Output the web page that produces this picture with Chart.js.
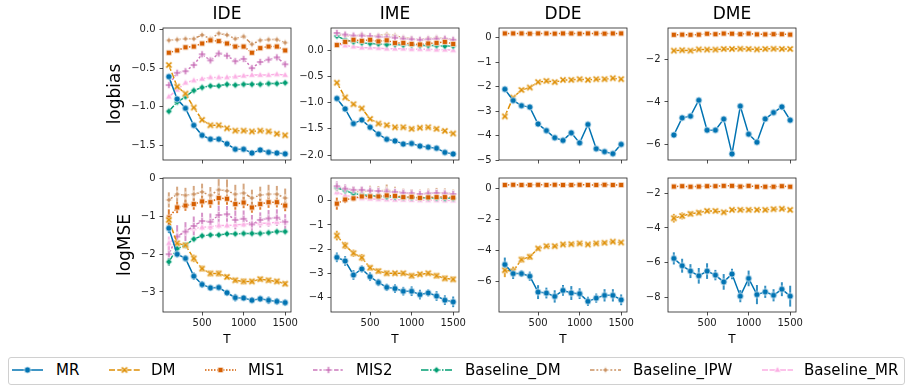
<!DOCTYPE html>
<html>
<head>
<meta charset="utf-8">
<script src="https://cdn.jsdelivr.net/npm/chart.js@4.4.1/dist/chart.umd.min.js"></script>
<style>
  body { margin: 0; width: 912px; height: 392px; background: #fff; position: relative; overflow: hidden; font-family: "DejaVu Sans", sans-serif; }
  canvas.panel { position: absolute; }
  #legend { position: absolute; left: 7.5px; top: 356.5px; width: 897px; height: 28px; border: 1px solid #d0d0d0; border-radius: 3px; box-sizing: border-box; }
  .handle { position: absolute; }
  .ltext { position: absolute; height: 20px; line-height: 20px; font-size: 15px; color: #000; white-space: nowrap; }
</style>
</head>
<body>
<div id="legend"></div>
<script>
// x values and ticks
const T = [100, 200, 300, 400, 500, 600, 700, 800, 900, 1000, 1100, 1200, 1300, 1400, 1500];
const xTicks = [500, 1000, 1500];
const methods = ["MR", "DM", "MIS1", "MIS2", "Baseline_DM", "Baseline_IPW", "Baseline_MR"];

// row 1: logbias
const ideBias = {
  MR: [-0.61, -0.90, -1.02, -1.24, -1.37, -1.42, -1.42, -1.48, -1.55, -1.55, -1.60, -1.56, -1.59, -1.60, -1.61],
  DM: [-0.46, -0.74, -0.83, -1.01, -1.17, -1.24, -1.24, -1.28, -1.31, -1.31, -1.32, -1.31, -1.32, -1.35, -1.37],
  MIS1: [-0.30, -0.27, -0.23, -0.22, -0.18, -0.14, -0.15, -0.18, -0.22, -0.22, -0.30, -0.24, -0.22, -0.22, -0.27],
  MIS2: [-0.72, -0.56, -0.54, -0.46, -0.32, -0.40, -0.31, -0.34, -0.41, -0.38, -0.50, -0.42, -0.39, -0.36, -0.45],
  Baseline_DM: [-1.06, -0.94, -0.87, -0.79, -0.75, -0.73, -0.73, -0.71, -0.72, -0.71, -0.71, -0.71, -0.70, -0.70, -0.69],
  Baseline_IPW: [-0.14, -0.13, -0.12, -0.12, -0.07, -0.12, -0.05, -0.07, -0.12, -0.09, -0.19, -0.14, -0.13, -0.13, -0.17],
  Baseline_MR: [-0.87, -0.78, -0.69, -0.66, -0.64, -0.62, -0.62, -0.62, -0.61, -0.60, -0.59, -0.59, -0.59, -0.58, -0.59]
};
const imeBias = {
  MR: [-0.92, -1.12, -1.40, -1.33, -1.47, -1.60, -1.70, -1.73, -1.79, -1.78, -1.83, -1.85, -1.87, -1.95, -1.98],
  DM: [-0.62, -0.90, -1.03, -1.11, -1.31, -1.40, -1.43, -1.47, -1.47, -1.50, -1.48, -1.47, -1.50, -1.54, -1.59],
  MIS1: [0.10, 0.16, 0.20, 0.18, 0.20, 0.17, 0.19, 0.14, 0.14, 0.12, 0.11, 0.13, 0.14, 0.16, 0.12],
  MIS2: [0.33, 0.30, 0.28, 0.28, 0.27, 0.26, 0.25, 0.24, 0.22, 0.21, 0.20, 0.21, 0.22, 0.22, 0.20],
  Baseline_DM: [0.27, 0.20, 0.16, 0.14, 0.13, 0.12, 0.11, 0.11, 0.10, 0.10, 0.09, 0.09, 0.09, 0.08, 0.08],
  Baseline_IPW: [0.30, 0.28, 0.26, 0.30, 0.26, 0.28, 0.30, 0.28, 0.24, 0.22, 0.20, 0.23, 0.24, 0.22, 0.20],
  Baseline_MR: [0.12, 0.09, 0.07, 0.05, 0.05, 0.04, 0.03, 0.03, 0.03, 0.02, 0.02, 0.02, 0.01, 0.01, 0.00]
};
const ddeBias = {
  MR: [-2.11, -2.57, -2.78, -2.84, -3.53, -3.80, -4.09, -4.20, -3.89, -4.30, -3.55, -4.54, -4.66, -4.74, -4.36],
  DM: [-3.22, -2.45, -2.14, -2.04, -1.82, -1.77, -1.82, -1.73, -1.73, -1.70, -1.73, -1.70, -1.70, -1.66, -1.70],
  MIS1: [0.17, 0.17, 0.17, 0.16, 0.17, 0.17, 0.16, 0.17, 0.17, 0.16, 0.17, 0.17, 0.16, 0.17, 0.17]
};
const dmeBias = {
  MR: [-5.56, -4.75, -4.67, -3.92, -5.33, -5.33, -4.81, -6.45, -4.20, -5.52, -5.90, -4.80, -4.50, -4.23, -4.86],
  DM: [-1.58, -1.56, -1.58, -1.52, -1.53, -1.53, -1.50, -1.50, -1.49, -1.50, -1.52, -1.50, -1.49, -1.50, -1.50],
  MIS1: [-0.83, -0.82, -0.83, -0.82, -0.78, -0.80, -0.77, -0.78, -0.80, -0.77, -0.81, -0.81, -0.80, -0.80, -0.82]
};

// row 2: logMSE
const ideMse = {
  MR: [-1.31, -2.00, -2.11, -2.58, -2.80, -2.89, -2.88, -3.02, -3.15, -3.16, -3.22, -3.18, -3.22, -3.25, -3.28],
  DM: [-1.09, -1.71, -1.76, -2.11, -2.38, -2.51, -2.51, -2.60, -2.69, -2.72, -2.72, -2.66, -2.69, -2.72, -2.78],
  MIS1: [-1.03, -0.76, -0.71, -0.67, -0.60, -0.62, -0.51, -0.53, -0.67, -0.63, -0.76, -0.67, -0.62, -0.62, -0.71],
  MIS2: [-2.00, -1.53, -1.40, -1.25, -1.12, -1.14, -0.96, -0.94, -1.09, -1.06, -1.21, -1.09, -1.05, -1.03, -1.14],
  Baseline_DM: [-2.20, -1.85, -1.76, -1.60, -1.51, -1.49, -1.49, -1.46, -1.46, -1.45, -1.45, -1.45, -1.43, -1.40, -1.40],
  Baseline_IPW: [-0.56, -0.41, -0.44, -0.41, -0.35, -0.44, -0.29, -0.32, -0.41, -0.38, -0.51, -0.43, -0.41, -0.41, -0.51],
  Baseline_MR: [-1.71, -1.51, -1.40, -1.31, -1.29, -1.27, -1.24, -1.24, -1.22, -1.21, -1.18, -1.18, -1.18, -1.15, -1.15]
};
const ideMseErr = {
  MR: [0.13, 0.08, 0.08, 0.10, 0.08, 0.08, 0.07, 0.07, 0.10, 0.08, 0.07, 0.08, 0.10, 0.08, 0.08],
  DM: [0.10, 0.08, 0.08, 0.10, 0.08, 0.08, 0.08, 0.07, 0.07, 0.08, 0.07, 0.07, 0.07, 0.07, 0.07],
  MIS1: [0.22, 0.15, 0.14, 0.15, 0.16, 0.15, 0.18, 0.16, 0.15, 0.15, 0.14, 0.15, 0.15, 0.14, 0.15],
  MIS2: [0.30, 0.30, 0.25, 0.25, 0.22, 0.22, 0.25, 0.22, 0.25, 0.22, 0.25, 0.20, 0.22, 0.22, 0.20],
  Baseline_DM: [0.10, 0.06, 0.06, 0.05, 0.04, 0.04, 0.04, 0.04, 0.04, 0.04, 0.04, 0.04, 0.04, 0.04, 0.04],
  Baseline_IPW: [0.20, 0.20, 0.20, 0.22, 0.22, 0.22, 0.28, 0.30, 0.25, 0.25, 0.22, 0.22, 0.25, 0.22, 0.25],
  Baseline_MR: [0.18, 0.12, 0.10, 0.10, 0.08, 0.08, 0.08, 0.07, 0.07, 0.07, 0.07, 0.06, 0.06, 0.06, 0.06]
};
const imeMse = {
  MR: [-2.34, -2.49, -3.07, -2.82, -3.14, -3.38, -3.58, -3.63, -3.74, -3.74, -3.88, -3.81, -3.94, -4.11, -4.18],
  DM: [-1.44, -1.85, -2.17, -2.35, -2.77, -2.91, -3.00, -3.00, -3.00, -3.10, -3.04, -3.00, -3.10, -3.21, -3.25],
  MIS1: [-0.12, 0.05, 0.10, 0.18, 0.18, 0.18, 0.22, 0.20, 0.15, 0.16, 0.12, 0.14, 0.15, 0.15, 0.13],
  MIS2: [0.60, 0.50, 0.45, 0.45, 0.42, 0.40, 0.38, 0.36, 0.33, 0.31, 0.28, 0.30, 0.32, 0.30, 0.28],
  Baseline_DM: [0.55, 0.42, 0.30, 0.25, 0.22, 0.18, 0.16, 0.15, 0.14, 0.13, 0.12, 0.12, 0.11, 0.10, 0.10],
  Baseline_IPW: [0.50, 0.45, 0.38, 0.38, 0.42, 0.40, 0.45, 0.38, 0.32, 0.30, 0.28, 0.32, 0.33, 0.33, 0.28],
  Baseline_MR: [0.35, 0.22, 0.15, 0.10, 0.08, 0.06, 0.05, 0.04, 0.04, 0.03, 0.02, 0.02, 0.02, 0.01, 0.01]
};
const imeMseErr = {
  MR: [0.20, 0.20, 0.20, 0.15, 0.18, 0.15, 0.15, 0.18, 0.18, 0.20, 0.20, 0.15, 0.20, 0.20, 0.22],
  DM: [0.20, 0.15, 0.15, 0.15, 0.12, 0.12, 0.12, 0.10, 0.10, 0.12, 0.10, 0.10, 0.12, 0.12, 0.12],
  MIS1: [0.25, 0.15, 0.12, 0.12, 0.12, 0.12, 0.12, 0.12, 0.12, 0.12, 0.12, 0.12, 0.12, 0.12, 0.12],
  MIS2: [0.20, 0.18, 0.15, 0.15, 0.15, 0.15, 0.18, 0.15, 0.15, 0.15, 0.15, 0.15, 0.15, 0.15, 0.15],
  Baseline_DM: [0.08, 0.06, 0.05, 0.04, 0.04, 0.04, 0.04, 0.04, 0.04, 0.04, 0.04, 0.04, 0.04, 0.04, 0.04],
  Baseline_IPW: [0.18, 0.18, 0.20, 0.18, 0.20, 0.20, 0.22, 0.20, 0.18, 0.18, 0.18, 0.18, 0.20, 0.18, 0.18],
  Baseline_MR: [0.12, 0.08, 0.07, 0.06, 0.06, 0.06, 0.06, 0.06, 0.06, 0.06, 0.06, 0.06, 0.06, 0.06, 0.06]
};
const ddeMse = {
  MR: [-4.91, -5.50, -5.50, -5.67, -6.70, -6.76, -6.98, -6.59, -6.76, -6.80, -7.30, -7.09, -6.91, -6.91, -7.20],
  DM: [-5.28, -5.35, -4.59, -4.41, -3.87, -3.72, -3.72, -3.61, -3.59, -3.54, -3.61, -3.54, -3.50, -3.43, -3.48],
  MIS1: [0.25, 0.26, 0.25, 0.25, 0.26, 0.25, 0.26, 0.25, 0.25, 0.26, 0.25, 0.25, 0.26, 0.25, 0.25]
};
const ddeMseErr = {
  MR: [0.45, 0.35, 0.20, 0.30, 0.45, 0.35, 0.40, 0.35, 0.45, 0.35, 0.30, 0.30, 0.40, 0.40, 0.35],
  DM: [0.45, 0.30, 0.20, 0.20, 0.15, 0.12, 0.10, 0.12, 0.12, 0.10, 0.10, 0.10, 0.10, 0.10, 0.10],
  MIS1: [0.05, 0.05, 0.05, 0.05, 0.05, 0.05, 0.05, 0.05, 0.05, 0.05, 0.05, 0.05, 0.05, 0.05, 0.05]
};
const dmeMse = {
  MR: [-5.75, -6.17, -6.48, -6.75, -6.48, -6.71, -7.10, -6.65, -7.92, -6.90, -7.83, -7.67, -7.87, -7.52, -7.92],
  DM: [-3.44, -3.31, -3.19, -3.12, -3.02, -3.02, -3.10, -2.96, -2.96, -2.96, -2.96, -2.96, -2.92, -2.90, -2.96],
  MIS1: [-1.62, -1.60, -1.63, -1.62, -1.60, -1.60, -1.58, -1.58, -1.62, -1.58, -1.63, -1.63, -1.63, -1.60, -1.63]
};
const dmeMseErr = {
  MR: [0.35, 0.40, 0.40, 0.45, 0.45, 0.30, 0.45, 0.30, 0.35, 0.45, 0.55, 0.35, 0.35, 0.40, 0.60],
  DM: [0.25, 0.20, 0.15, 0.15, 0.12, 0.10, 0.10, 0.10, 0.10, 0.10, 0.10, 0.10, 0.10, 0.10, 0.10],
  MIS1: [0.05, 0.05, 0.05, 0.05, 0.05, 0.05, 0.05, 0.05, 0.05, 0.05, 0.05, 0.05, 0.05, 0.05, 0.05]
};

// y tick values per panel
const ideBiasTicks = [0, -0.5, -1, -1.5];
const imeBiasTicks = [0, -0.5, -1, -1.5, -2];
const ddeBiasTicks = [0, -1, -2, -3, -4, -5];
const dmeBiasTicks = [-2, -4, -6];
const ideMseTicks = [0, -1, -2, -3];
const imeMseTicks = [0, -1, -2, -3, -4];
const ddeMseTicks = [0, -2, -4, -6];
const dmeMseTicks = [-2, -4, -6, -8];

// styles
const colors = {
  MR: "#0173b2", DM: "#de8f05", MIS1: "#d55e00", MIS2: "#cc78bc",
  Baseline_DM: "#029e73", Baseline_IPW: "#ca9161", Baseline_MR: "#fbafe4"
};
const dashes = {
  MR: [], DM: [6, 2.25], MIS1: [1.5, 1.5], MIS2: [4.5, 1.9, 2.25, 1.9],
  Baseline_DM: [7.5, 1.5, 1.5, 1.5], Baseline_IPW: [4.5, 1.9, 1.9, 1.9, 1.9, 1.9],
  Baseline_MR: [6, 1.5, 6, 1.5, 1.5, 1.5]
};
const shapes = {
  MR: "circle", DM: "x", MIS1: "square", MIS2: "plus",
  Baseline_DM: "diamond", Baseline_IPW: "star", Baseline_MR: "triangle"
};

function makeMarker(shape, color) {
  const c = document.createElement("canvas");
  c.width = 12; c.height = 12;
  const g = c.getContext("2d");
  g.translate(6, 6);
  g.beginPath();
  function poly(pts) {
    g.moveTo(pts[0][0], pts[0][1]);
    for (let i = 1; i < pts.length; i++) g.lineTo(pts[i][0], pts[i][1]);
    g.closePath();
  }
  function plusPts(a, e, rot) {
    const p = [[-a, -e], [a, -e], [a, -a], [e, -a], [e, a], [a, a], [a, e], [-a, e], [-a, a], [-e, a], [-e, -a], [-a, -a]];
    const cs = Math.cos(rot), sn = Math.sin(rot);
    return p.map(([x, y]) => [x * cs - y * sn, x * sn + y * cs]);
  }
  if (shape === "circle") g.arc(0, 0, 3.2, 0, Math.PI * 2);
  else if (shape === "square") g.rect(-2.7, -2.7, 5.4, 5.4);
  else if (shape === "x") poly(plusPts(1.1, 3.9, Math.PI / 4));
  else if (shape === "plus") poly(plusPts(1.1, 3.6, 0));
  else if (shape === "diamond") poly([[0, -3.4], [3.4, 0], [0, 3.4], [-3.4, 0]]);
  else if (shape === "star") {
    const pts = [];
    for (let i = 0; i < 8; i++) {
      const r = i % 2 ? 1.7 : 3.8;
      const a = -Math.PI / 2 + i * Math.PI / 4;
      pts.push([r * Math.cos(a), r * Math.sin(a)]);
    }
    poly(pts);
  } else if (shape === "triangle") poly([[0, -3.8], [3.4, 2.2], [-3.4, 2.2]]);
  g.fillStyle = color;
  g.fill();
  g.lineWidth = 0.75;
  g.strokeStyle = "#fff";
  g.stroke();
  return c;
}

const markers = {};
methods.forEach(m => markers[m] = makeMarker(shapes[m], colors[m]));

// frame around the plot area
const framePlugin = {
  id: "frame",
  afterDraw(chart) {
    const a = chart.chartArea, ctx = chart.ctx;
    ctx.save();
    ctx.strokeStyle = "#222";
    ctx.lineWidth = 0.8;
    ctx.strokeRect(a.left, a.top, a.right - a.left, a.bottom - a.top);
    ctx.restore();
  }
};

// vertical error bars from each dataset's err array
const errPlugin = {
  id: "errbars",
  beforeDatasetsDraw(chart) {
    const ctx = chart.ctx, xs = chart.scales.x, ys = chart.scales.y;
    ctx.save();
    chart.data.datasets.forEach(ds => {
      if (!ds.err) return;
      ctx.strokeStyle = ds.borderColor;
      ctx.globalAlpha = 0.8;
      ctx.lineWidth = 2;
      ds.data.forEach((p, i) => {
        const x = xs.getPixelForValue(p.x);
        ctx.beginPath();
        ctx.moveTo(x, ys.getPixelForValue(p.y - ds.err[i]));
        ctx.lineTo(x, ys.getPixelForValue(p.y + ds.err[i]));
        ctx.stroke();
      });
    });
    ctx.restore();
  }
};

const plotLefts = [163, 331, 499, 668];
const plotW = 128;
const panels = [
  { row: 0, col: 0, title: "IDE", ylabel: "logbias", data: ideBias, err: null, min: -1.69, max: 0.02, ticks: ideBiasTicks, dec: 1 },
  { row: 0, col: 1, title: "IME", data: imeBias, err: null, min: -2.095, max: 0.425, ticks: imeBiasTicks, dec: 1 },
  { row: 0, col: 2, title: "DDE", data: ddeBias, err: null, min: -5.0, max: 0.39, ticks: ddeBiasTicks, dec: 0 },
  { row: 0, col: 3, title: "DME", data: dmeBias, err: null, min: -6.74, max: -0.51, ticks: dmeBiasTicks, dec: 0 },
  { row: 1, col: 0, ylabel: "logMSE", data: ideMse, err: ideMseErr, min: -3.53, max: 0.02, ticks: ideMseTicks, dec: 0 },
  { row: 1, col: 1, data: imeMse, err: imeMseErr, min: -4.6, max: 0.94, ticks: imeMseTicks, dec: 0 },
  { row: 1, col: 2, data: ddeMse, err: ddeMseErr, min: -7.99, max: 0.70, ticks: ddeMseTicks, dec: 0 },
  { row: 1, col: 3, data: dmeMse, err: dmeMseErr, min: -8.83, max: -1.13, ticks: dmeMseTicks, dec: 0 }
];

const tickFont = { family: "DejaVu Sans", size: 10 };

panels.forEach(p => {
  const yW = p.col === 0 ? 70 : 40;
  const padR = 20;
  const xH = p.row === 0 ? 10 : 36;
  const top = p.row === 0 ? 0 : 168;
  const height = p.row === 0 ? 170 : 180;
  const left = plotLefts[p.col] - yW;
  const width = yW + plotW + padR;

  const cv = document.createElement("canvas");
  cv.className = "panel";
  cv.width = width; cv.height = height;
  cv.style.left = left + "px"; cv.style.top = top + "px";
  document.body.appendChild(cv);

  const datasets = methods.filter(m => p.data[m]).map(m => ({
    label: m,
    data: T.map((t, i) => ({ x: t, y: p.data[m][i] })),
    err: p.err ? p.err[m] : null,
    borderColor: colors[m],
    backgroundColor: colors[m],
    borderWidth: 1.5,
    borderDash: dashes[m],
    pointStyle: markers[m],
    pointRadius: 4,
    tension: 0
  }));

  new Chart(cv.getContext("2d"), {
    type: "line",
    data: { datasets },
    plugins: [framePlugin, errPlugin],
    options: {
      animation: false,
      responsive: false,
      events: [],
      layout: { padding: { top: p.row === 0 ? 0 : 10, right: padR, left: 0, bottom: 0 } },
      plugins: {
        legend: { display: false },
        tooltip: { enabled: false },
        title: {
          display: p.row === 0,
          text: p.title || "",
          fullSize: false,
          color: "#000",
          font: { family: "DejaVu Sans", size: 17, weight: "normal", lineHeight: 1 },
          padding: { top: 6, bottom: 5 }
        }
      },
      scales: {
        x: {
          type: "linear",
          min: 30, max: 1570,
          afterBuildTicks: s => { s.ticks = xTicks.map(v => ({ value: v })); },
          afterFit: s => { s.height = xH; s.paddingLeft = 0; s.paddingRight = 0; },
          ticks: { display: p.row === 1, autoSkip: false, maxRotation: 0, padding: 2, color: "#222", font: tickFont,
            callback: v => String(v) },
          grid: { drawOnChartArea: false, drawTicks: true, tickLength: 3.5, tickColor: "#222", tickWidth: 0.8 },
          border: { display: false },
          title: { display: p.row === 1, text: "T", color: "#000", font: { family: "DejaVu Sans", size: 12, lineHeight: 1 }, padding: { top: 0, bottom: 2 } }
        },
        y: {
          min: p.min, max: p.max,
          afterBuildTicks: s => { s.ticks = p.ticks.map(v => ({ value: v })); },
          afterFit: s => { s.width = yW; s.paddingTop = 0; s.paddingBottom = 0; },
          ticks: {
            autoSkip: false, padding: 4, color: "#222", font: tickFont,
            callback: v => v.toFixed(p.dec).replace("-", "\u2212")
          },
          grid: { drawOnChartArea: false, drawTicks: true, tickLength: 3.5, tickColor: "#222", tickWidth: 0.8 },
          border: { display: false },
          title: {
            display: p.col === 0,
            text: p.ylabel || "",
            color: "#000",
            font: { family: "DejaVu Sans", size: 17, lineHeight: 1 },
            padding: { top: p.row === 0 ? 14.5 : 24.5, bottom: 0 }
          }
        }
      }
    }
  });
});

// legend
const legendPos = [
  { m: "MR", hx: 12, tx: 56 },
  { m: "DM", hx: 109, tx: 151 },
  { m: "MIS1", hx: 205, tx: 248 },
  { m: "MIS2", hx: 313, tx: 356 },
  { m: "Baseline_DM", hx: 421, tx: 465 },
  { m: "Baseline_IPW", hx: 590, tx: 633 },
  { m: "Baseline_MR", hx: 762, tx: 804 }
];
legendPos.forEach(it => {
  const c = document.createElement("canvas");
  c.className = "handle";
  c.width = 31; c.height = 20;
  c.style.left = it.hx + "px"; c.style.top = "359.5px";
  document.body.appendChild(c);
  const g = c.getContext("2d");
  g.strokeStyle = colors[it.m];
  g.lineWidth = 1.5;
  g.setLineDash(dashes[it.m]);
  g.beginPath();
  g.moveTo(0, 10); g.lineTo(31, 10);
  g.stroke();
  g.drawImage(markers[it.m], 15.5 - 6, 10 - 6);
  const s = document.createElement("div");
  s.className = "ltext";
  s.style.left = it.tx + "px"; s.style.top = "359.5px";
  s.textContent = it.m;
  document.body.appendChild(s);
});
</script>
</body>
</html>
